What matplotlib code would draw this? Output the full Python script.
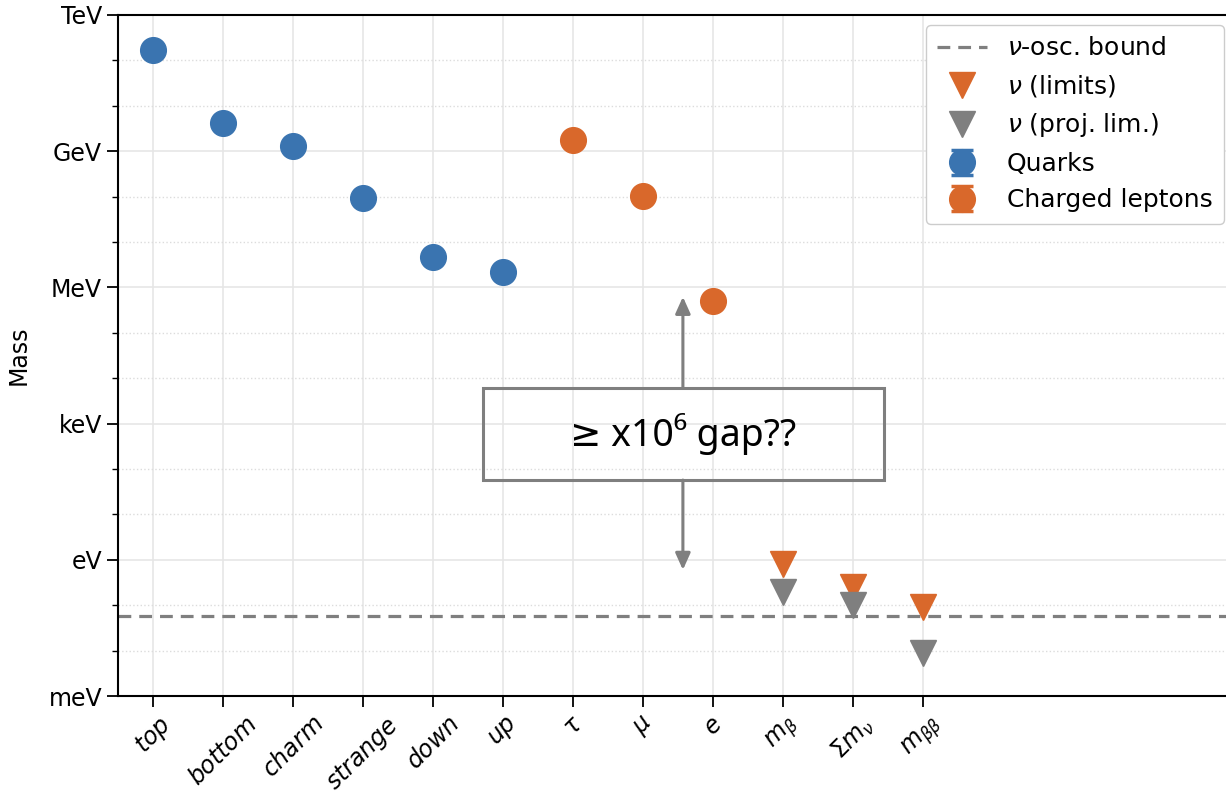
import numpy as np
import matplotlib
matplotlib.use("Agg")
from matplotlib import pyplot as plt
from matplotlib.patches import Rectangle

# masses in eV
quark_names = ["top", "bottom", "charm", "strange", "down", "up"]
quark_mass = [173e9, 4.18e9, 1.27e9, 93e6, 4.67e6, 2.16e6]
quark_err = [0.3e9, 0.03e9, 0.02e9, 8e6, 0.48e6, 0.49e6]

lepton_names = [r"$\tau$", r"$\mu$", r"$e$"]
lepton_mass = [1.777e9, 105.66e6, 0.511e6]
lepton_err = [0.12e6, 0.0001e6, 0.000001e6]

nu_names = [r"$m_\beta$", r"$\Sigma m_\nu$", r"$m_{\beta\beta}$"]
nu_limit = [0.8, 0.25, 0.09]
nu_proj = [0.2, 0.1, 0.009]

osc_bound = 0.058

tick_vals = [1e-3, 1, 1e3, 1e6, 1e9, 1e12]
tick_labels = ["meV", "eV", "keV", "MeV", "GeV", "TeV"]

blue = "#3A74B0"
orange = "#D9682B"
grey = "#7F7F7F"

names = [r"$%s$" % n for n in quark_names] + lepton_names + nu_names
xq = np.arange(len(quark_names))
xl = np.arange(len(lepton_names)) + len(quark_names)
xn = np.arange(len(nu_names)) + len(quark_names) + len(lepton_names)

fig = plt.figure(figsize=(12.26, 7.93), dpi=100)
ax = fig.add_axes([118/1226, 1-696/793, 1120/1226, 681/793])

ax.axhline(osc_bound, color=grey, ls="--", lw=2.3, dashes=(4, 2.5), label=r"$\nu$-osc. bound", zorder=2)
ax.plot(xn, nu_limit, "v", color=orange, ms=19, ls="none", label=r"$\nu$ (limits)", zorder=3)
ax.plot(xn, nu_proj, "v", color=grey, ms=19, ls="none", label=r"$\nu$ (proj. lim.)", zorder=3)
for xs, ys, es, c, lab in [(xq, quark_mass, quark_err, blue, "Quarks"),
                           (xl, lepton_mass, lepton_err, orange, "Charged leptons")]:
    eb = ax.errorbar(xs, ys, yerr=es, fmt="o", color=c, ms=18.5, capsize=8, capthick=2.5,
                     lw=2, label=lab, zorder=3)
    for cap in eb[1]:
        cap.set_zorder(2.5)
    for bar in eb[2]:
        bar.set_zorder(2.5)

# gap annotation
xa = 7.57
ax.add_patch(Rectangle((4.72, 57), 10.44-4.72, 6000-57, fill=False, ec=grey, lw=2.2, zorder=4))
ax.text(xa, 590, "≥ x10⁶ gap??", ha="center", va="center", fontsize=27,
        family=["Noto Sans", "DejaVu Sans"], zorder=5)
arr = dict(arrowstyle="-|>,head_length=1.0,head_width=0.45", color=grey, lw=2.2, shrinkA=0, shrinkB=0)
ax.annotate("", xy=(xa, 6.2e5), xytext=(xa, 6000), arrowprops=arr)
ax.annotate("", xy=(xa, 0.6), xytext=(xa, 57), arrowprops=arr)

ax.set_yscale("log")
ax.set_ylim(1e-3, 1e12)
ax.set_xlim(-0.5, 15.5)
ax.set_yticks(tick_vals)
ax.set_yticklabels(tick_labels, fontsize=17)
ax.set_yticks([10.0**k for k in range(-3, 13) if k % 3 != 0], minor=True)
ax.yaxis.set_minor_formatter(matplotlib.ticker.NullFormatter())
ax.set_xticks(np.arange(len(names)))
ax.set_xticklabels(names, rotation=45, fontsize=17)
ax.set_ylabel("Mass", fontsize=17)
ax.yaxis.set_label_coords(-0.078, 0.5)

ax.grid(True, which="major", color="#e6e6e6", lw=1.2)
ax.grid(True, which="minor", axis="y", color="#dcdcdc", lw=1.0, ls=":")
ax.set_axisbelow(True)
ax.tick_params(which="major", length=8, width=1.3)
ax.tick_params(which="minor", length=4.5, width=1.0)
for s in ax.spines.values():
    s.set_linewidth(1.5)

ax.legend(loc="upper right", bbox_to_anchor=(1224/1226, 1-25/793), bbox_transform=fig.transFigure,
          borderaxespad=0, fontsize=18, labelspacing=0.5, handletextpad=0.8, borderpad=0.45,
          framealpha=1)

fig.savefig("out.png", dpi=100)
